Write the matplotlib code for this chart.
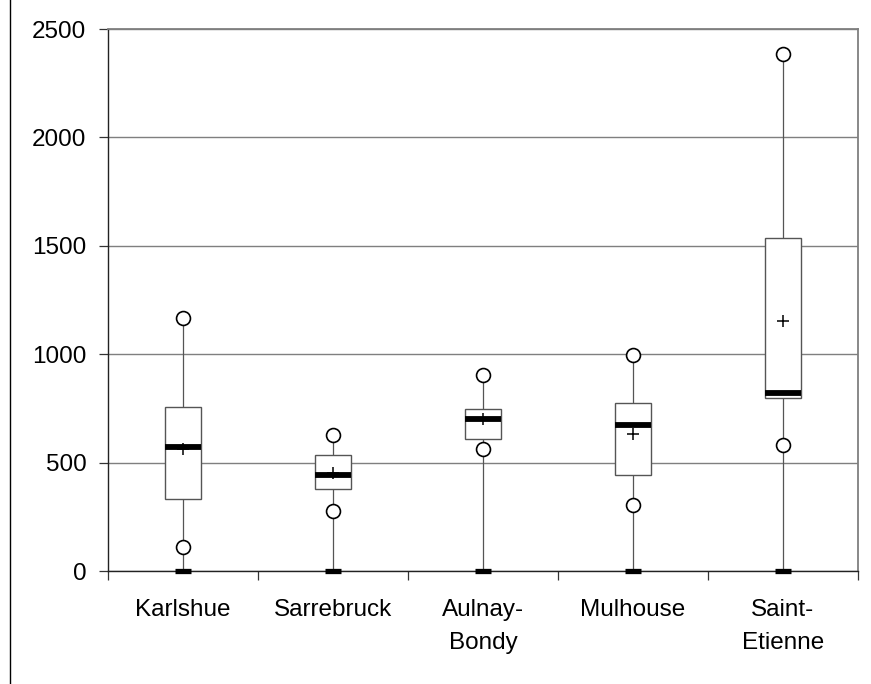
import matplotlib
matplotlib.use("Agg")
import matplotlib.pyplot as plt
from matplotlib.lines import Line2D
from matplotlib.patches import Rectangle

plt.rcParams['font.family'] = ['Liberation Sans', 'DejaVu Sans']

categories = ["Karlshue", "Sarrebruck", "Aulnay-\nBondy", "Mulhouse", "Saint-\nEtienne"]
minimum = [0, 0, 0, 0, 0]
low_point = [110, 276, 562, 305, 583]
q1 = [331, 378, 608, 442, 796]
median = [572, 442, 700, 672, 821]
mean = [562, 451, 701, 634, 1151]
q3 = [755, 534, 746, 773, 1535]
maximum = [1169, 626, 904, 996, 2385]
yticks = [0, 500, 1000, 1500, 2000, 2500]

fig = plt.figure(figsize=(8.71, 6.84), dpi=100)
ax = fig.add_axes([108/871, 113/684, 750/871, 542/684])

box_w = 0.245
zero_w = 0.11
gray = '#7f7f7f'

for i in range(len(categories)):
    x = i
    # whisker
    ax.plot([x, x], [minimum[i], maximum[i]], color='#555555', lw=0.9, zorder=2)
    # box
    ax.add_patch(Rectangle((x - box_w/2, q1[i]), box_w, q3[i] - q1[i],
                           facecolor='white', edgecolor='#555555', lw=1.0, zorder=3))
    # median
    ax.plot([x - box_w/2, x + box_w/2], [median[i], median[i]], color='black',
            lw=4.2, solid_capstyle='butt', zorder=4)
    # min bar
    ax.plot([x - zero_w/2, x + zero_w/2], [minimum[i], minimum[i]], color='black',
            lw=3.8, solid_capstyle='butt', zorder=6, clip_on=False)
    # circles
    ax.plot([x, x], [low_point[i], maximum[i]], linestyle='none', marker='o',
            markersize=10, markerfacecolor='white', markeredgecolor='black',
            markeredgewidth=1.2, zorder=5, clip_on=False)
    # mean
    ax.plot([x], [mean[i]], linestyle='none', marker='+', markersize=9,
            markeredgewidth=1.1, color='black', zorder=5)

ax.set_xlim(-0.5, len(categories) - 0.5)
ax.set_ylim(0, 2500)
ax.set_yticks(yticks)
ax.set_yticklabels([str(v) for v in yticks])
ax.set_xticks(range(len(categories)))
ax.set_xticklabels(categories, linespacing=1.65)
ax.set_xticks([i - 0.5 for i in range(len(categories) + 1)], minor=True)
ax.tick_params(axis='x', which='major', length=0, pad=20, labelsize=17.5)
ax.tick_params(axis='x', which='minor', length=6.5, width=0.9, color='#333333', direction='out')
ax.tick_params(axis='y', length=6.5, width=0.9, color='#333333', pad=9, labelsize=17.5)

ax.yaxis.grid(True, color=gray, lw=1.0, zorder=0)
ax.set_axisbelow(True)

for s in ['top', 'right']:
    ax.spines[s].set_color(gray)
    ax.spines[s].set_linewidth(1.3)
for s in ['left', 'bottom']:
    ax.spines[s].set_color('#222222')
    ax.spines[s].set_linewidth(1.0)

fig.add_artist(Line2D([9.5/871, 9.5/871], [0, 1], transform=fig.transFigure,
                      color='black', lw=1.0))

fig.savefig("out.png", dpi=100)
